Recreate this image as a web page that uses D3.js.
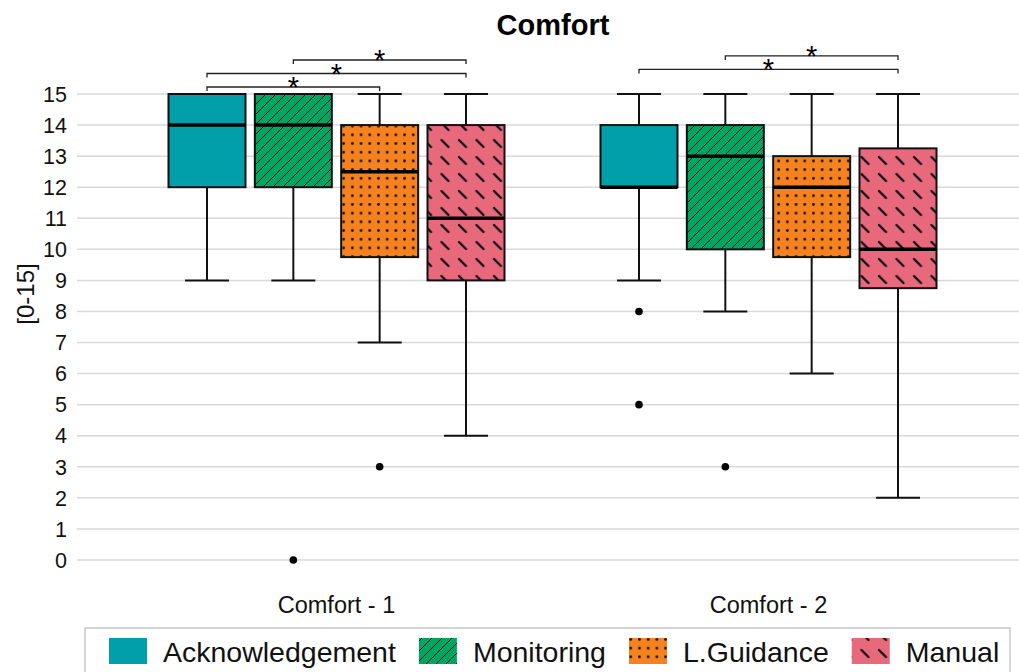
<!DOCTYPE html>
<html>
<head>
<meta charset="utf-8">
<script src="https://cdn.jsdelivr.net/npm/d3@7"></script>
<style>
  body { margin: 0; background: #fff; }
  svg { display: block; font-family: "Liberation Sans", Arial, sans-serif; }
</style>
</head>
<body>
<svg id="chart" width="1019" height="672"></svg>
<script>
const groups = ["Comfort - 1", "Comfort - 2"];
const seriesNames = ["Acknowledgement", "Monitoring", "L.Guidance", "Manual"];
const seriesColors = ["#009fa9", "#00a562", "#f5821f", "#e8687c"];
const seriesPatterns = ["none", "hatch", "dots", "dashes"];

// [min, q1, median, q3, max], one row per group
const acknowledgementStats = [[9, 12, 14, 15, 15], [9, 12, 12, 14, 15]];
const monitoringStats = [[9, 12, 14, 15, 15], [8, 10, 13, 14, 15]];
const guidanceStats = [[7, 9.75, 12.5, 14, 15], [6, 9.75, 12, 13, 15]];
const manualStats = [[4, 9, 11, 14, 15], [2, 8.75, 10, 13.25, 15]];

const acknowledgementOutliers = [[], [8, 5]];
const monitoringOutliers = [[0], [3]];
const guidanceOutliers = [[3], []];
const manualOutliers = [[], []];

const yTicks = d3.range(0, 16);

// significance brackets: group index, from series, to series, stacking level
const sigGroup = [0, 0, 0, 1, 1];
const sigFrom = [0, 0, 1, 0, 1];
const sigTo = [2, 3, 3, 3, 3];
const sigLevel = [0, 1, 2, 1.3, 2.3];

const allStats = [acknowledgementStats, monitoringStats, guidanceStats, manualStats];
const allOutliers = [acknowledgementOutliers, monitoringOutliers, guidanceOutliers, manualOutliers];

const boxes = [];
groups.forEach((g, gi) => {
  seriesNames.forEach((s, si) => {
    const st = allStats[si][gi];
    boxes.push({
      group: g, series: s, si,
      min: st[0], q1: st[1], med: st[2], q3: st[3], max: st[4],
      outliers: allOutliers[si][gi],
    });
  });
});

const svg = d3.select("#chart");
const width = 1019;

const yScale = d3.scaleLinear().domain([0, 15]).range([560, 94]);
const xGroup = d3.scaleBand().domain(groups).range([120.5, 984.5]);
const xSeries = d3.scalePoint().domain(seriesNames).range([86.5, 345.5]);
const boxWidth = 77;
const capWidth = 44;
const cx = (d) => xGroup(d.group) + xSeries(d.series);

// patterns
const defs = svg.append("defs");
const hatch = defs.append("pattern")
  .attr("id", "hatch").attr("patternUnits", "userSpaceOnUse")
  .attr("width", 10).attr("height", 10);
hatch.append("rect").attr("width", 10).attr("height", 10).attr("fill", seriesColors[1]);
hatch.append("path").attr("d", "M-1,11 L11,-1 M-6,6 L6,-6 M4,16 L16,4")
  .attr("stroke", "#111").attr("stroke-width", 1);

const dots = defs.append("pattern")
  .attr("id", "dots").attr("patternUnits", "userSpaceOnUse")
  .attr("width", 8.7).attr("height", 8.7);
dots.append("rect").attr("width", 8.7).attr("height", 8.7).attr("fill", seriesColors[2]);
dots.append("circle").attr("cx", 4.35).attr("cy", 4.35).attr("r", 1.4).attr("fill", "#111");

const dashes = defs.append("pattern")
  .attr("id", "dashes").attr("patternUnits", "userSpaceOnUse")
  .attr("width", 17.5).attr("height", 17);
dashes.append("rect").attr("width", 17.5).attr("height", 17).attr("fill", seriesColors[3]);
dashes.append("path").attr("d", "M4,4 L11,11")
  .attr("stroke", "#111").attr("stroke-width", 2.4).attr("stroke-linecap", "round");

const fillFor = (si) => seriesPatterns[si] === "none" ? seriesColors[si] : `url(#${seriesPatterns[si]})`;

// gridlines + y axis labels
const grid = svg.append("g");
grid.selectAll("line").data(yTicks).enter().append("line")
  .attr("x1", 77).attr("x2", width)
  .attr("y1", (d) => yScale(d)).attr("y2", (d) => yScale(d))
  .attr("stroke", "#d9d9d9").attr("stroke-width", 1.5);

svg.append("g").selectAll("text").data(yTicks).enter().append("text")
  .attr("x", 67).attr("y", (d) => yScale(d))
  .attr("dy", "0.36em").attr("text-anchor", "end")
  .style("font-size", "21.5px").attr("fill", "#111")
  .text((d) => d);

svg.append("text")
  .attr("transform", "translate(25,294)rotate(-90)")
  .attr("text-anchor", "middle")
  .attr("dy", "0.36em")
  .style("font-size", "24px").attr("fill", "#111")
  .text("[0-15]");

// title
svg.append("text")
  .attr("x", 553).attr("y", 35)
  .attr("text-anchor", "middle")
  .style("font-size", "29px").style("font-weight", "bold")
  .text("Comfort");

// group labels
svg.append("g").selectAll("text").data(groups).enter().append("text")
  .attr("x", (d) => xGroup(d) + xGroup.bandwidth() / 2)
  .attr("y", 613)
  .attr("text-anchor", "middle")
  .style("font-size", "23.5px").attr("fill", "#111")
  .text((d) => d);

// boxes
const bx = svg.append("g").selectAll("g").data(boxes).enter().append("g");

bx.append("line")
  .attr("x1", cx).attr("x2", cx)
  .attr("y1", (d) => yScale(d.min)).attr("y2", (d) => yScale(d.max))
  .attr("stroke", "#111").attr("stroke-width", 2);

bx.append("line")
  .attr("x1", (d) => cx(d) - capWidth / 2).attr("x2", (d) => cx(d) + capWidth / 2)
  .attr("y1", (d) => yScale(d.min)).attr("y2", (d) => yScale(d.min))
  .attr("stroke", "#111").attr("stroke-width", 2);

bx.append("line")
  .attr("x1", (d) => cx(d) - capWidth / 2).attr("x2", (d) => cx(d) + capWidth / 2)
  .attr("y1", (d) => yScale(d.max)).attr("y2", (d) => yScale(d.max))
  .attr("stroke", "#111").attr("stroke-width", 2);

bx.append("rect")
  .attr("x", (d) => cx(d) - boxWidth / 2)
  .attr("y", (d) => yScale(d.q3))
  .attr("width", boxWidth)
  .attr("height", (d) => yScale(d.q1) - yScale(d.q3))
  .attr("fill", (d) => fillFor(d.si))
  .attr("stroke", "#111").attr("stroke-width", 2);

bx.append("line")
  .attr("x1", (d) => cx(d) - boxWidth / 2).attr("x2", (d) => cx(d) + boxWidth / 2)
  .attr("y1", (d) => yScale(d.med)).attr("y2", (d) => yScale(d.med))
  .attr("stroke", "#000").attr("stroke-width", 3.5);

bx.selectAll("circle")
  .data((d) => d.outliers.map((v) => ({ v, x: cx(d) })))
  .enter().append("circle")
  .attr("cx", (o) => o.x).attr("cy", (o) => yScale(o.v))
  .attr("r", 3.8).attr("fill", "#000");

// significance brackets
const sig = svg.append("g");
sigGroup.forEach((gi, i) => {
  const g = groups[gi];
  const x1 = xGroup(g) + xSeries(seriesNames[sigFrom[i]]);
  const x2 = xGroup(g) + xSeries(seriesNames[sigTo[i]]);
  const yb = yScale(15) - 7 - sigLevel[i] * 13.5;
  sig.append("path")
    .attr("d", `M${x1},${yb + 4}V${yb}H${x2}V${yb + 4}`)
    .attr("fill", "none").attr("stroke", "#222").attr("stroke-width", 1.3);
  sig.append("text")
    .attr("x", (x1 + x2) / 2).attr("y", yb + 10)
    .attr("text-anchor", "middle")
    .style("font-size", "29px").attr("fill", "#000")
    .text("*");
});

// legend
const legend = svg.append("g");
legend.append("rect")
  .attr("x", 85).attr("y", 628).attr("width", 925).attr("height", 60)
  .attr("fill", "#fff").attr("stroke", "#c8c8c8").attr("stroke-width", 1.5);

let lx = 109;
seriesNames.forEach((s, si) => {
  legend.append("rect")
    .attr("x", lx).attr("y", 638).attr("width", 38).attr("height", 26)
    .attr("fill", fillFor(si));
  const t = legend.append("text")
    .attr("x", lx + 54).attr("y", 662)
    .style("font-size", "28.5px").attr("fill", "#111")
    .text(s);
  lx += 54 + t.node().getComputedTextLength() + 23;
});
</script>
</body>
</html>
